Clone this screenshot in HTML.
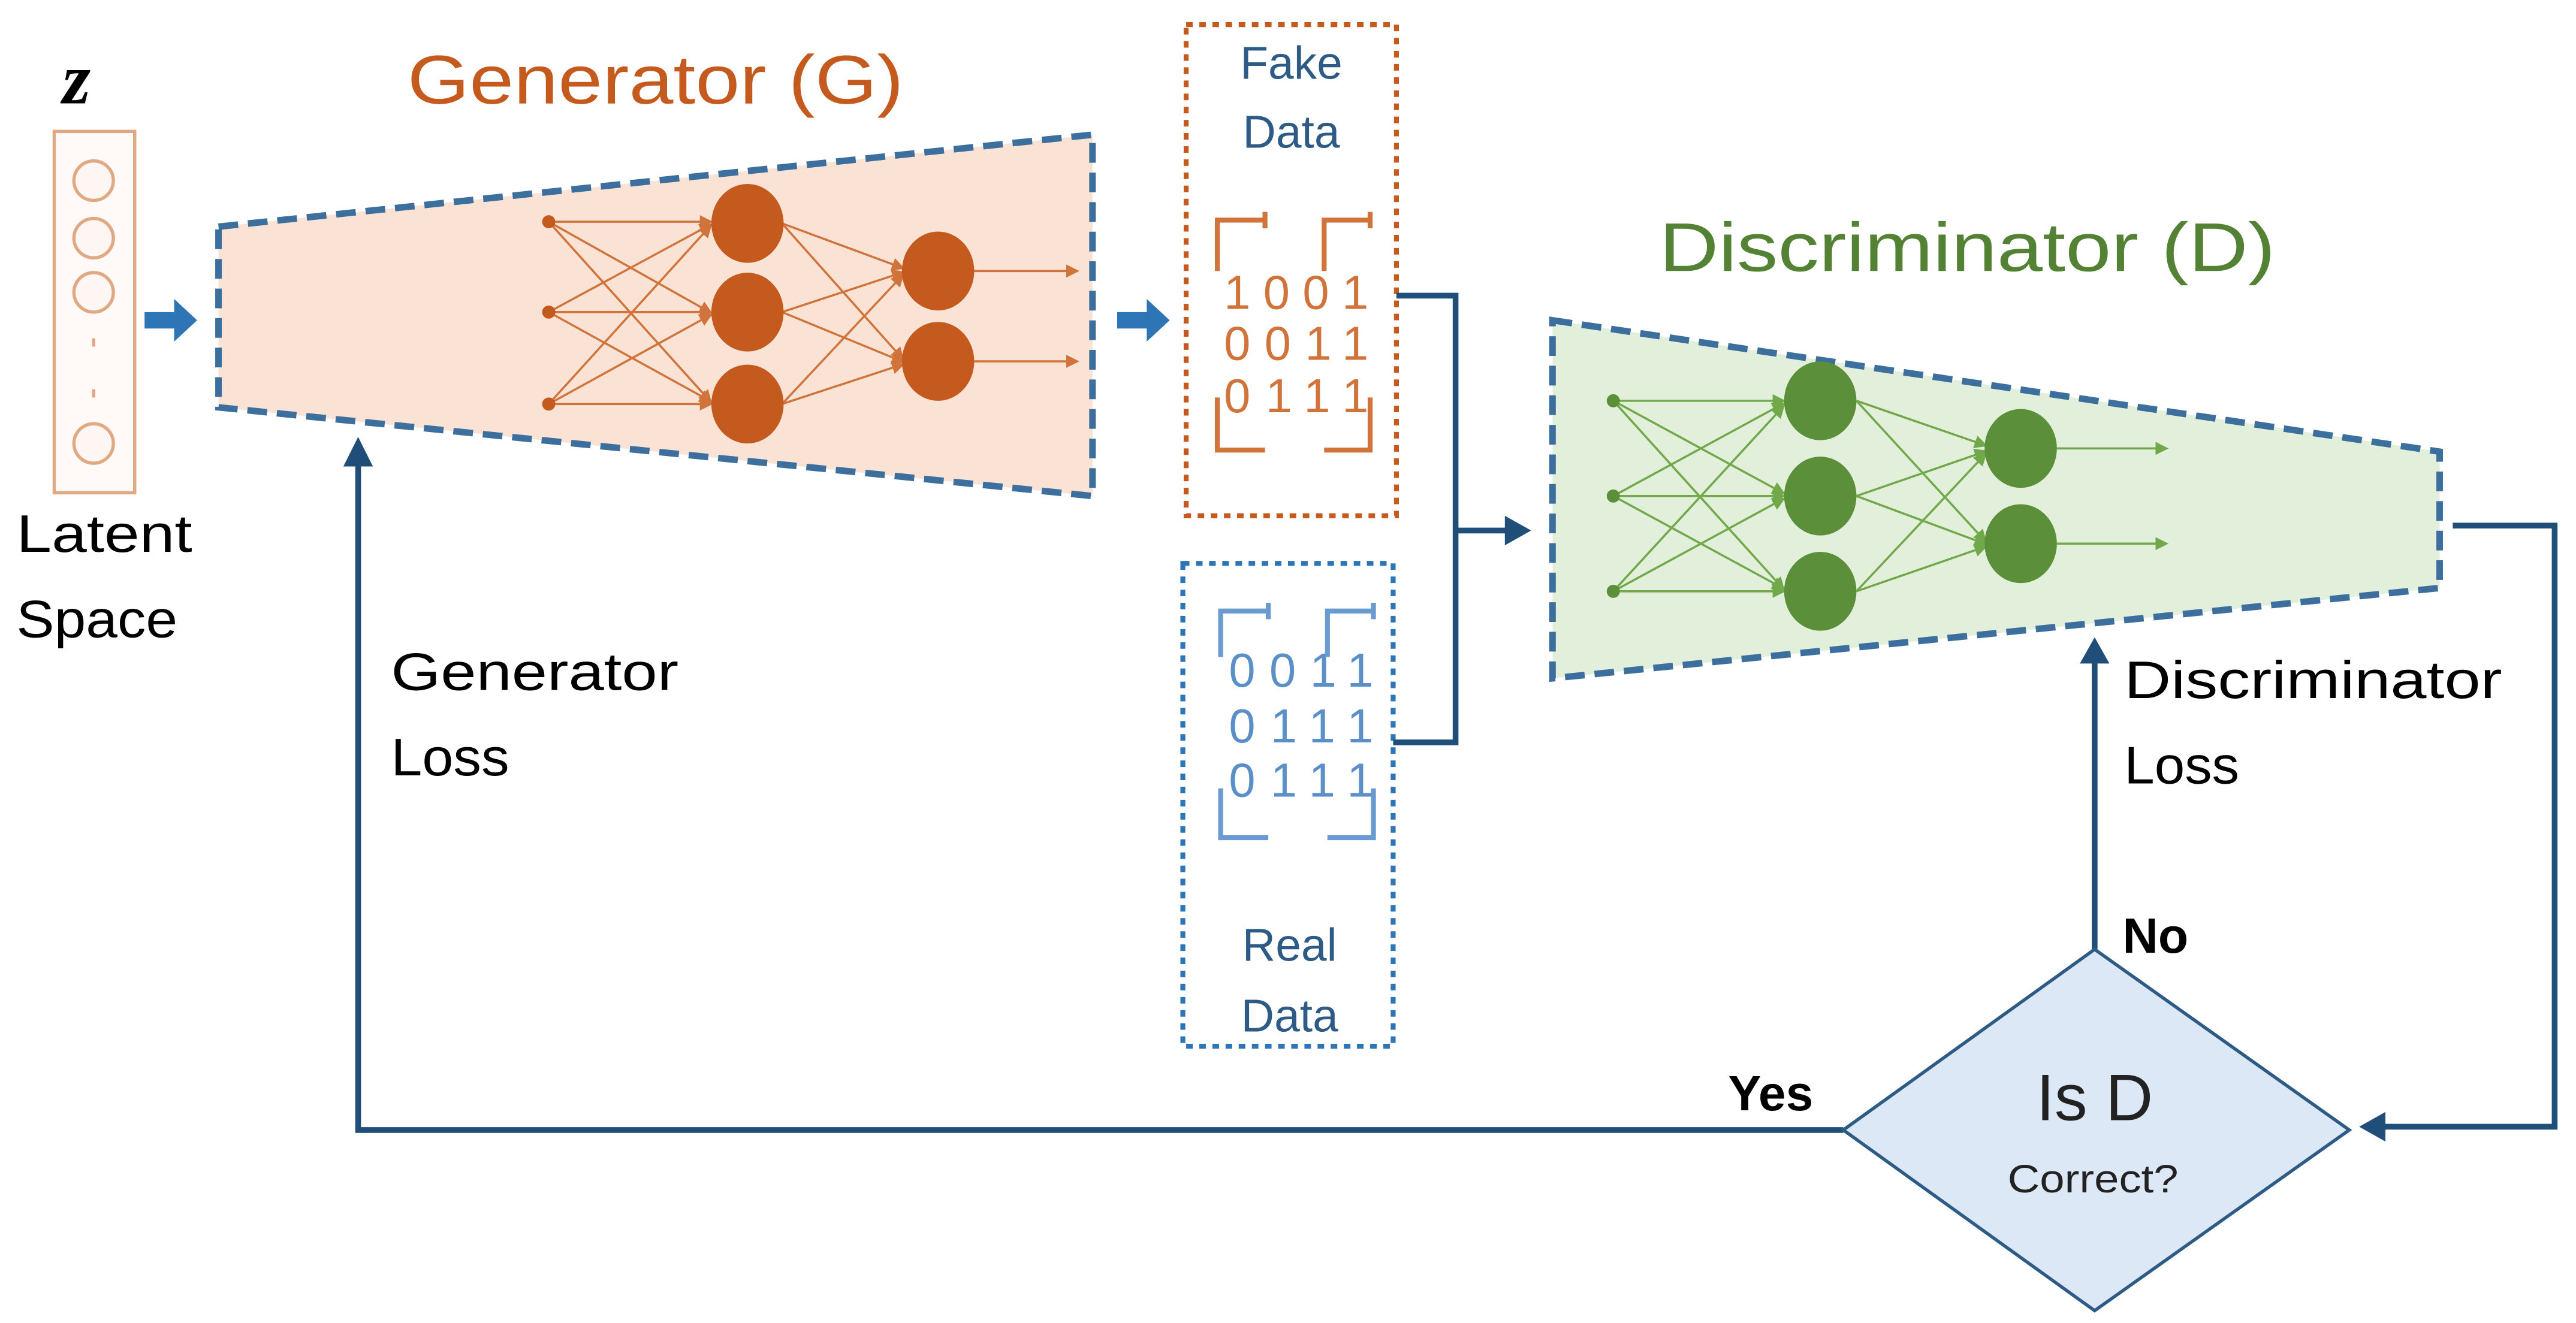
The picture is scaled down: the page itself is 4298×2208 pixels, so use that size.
<!DOCTYPE html>
<html><head><meta charset="utf-8"><style>
html,body{margin:0;padding:0;background:#fff;}
svg{display:block;}
text{font-family:"Liberation Sans",sans-serif;}
</style></head><body>
<svg width="4298" height="2208" viewBox="0 0 1568 805.5" xmlns="http://www.w3.org/2000/svg">
<defs>
<marker id="ah" markerWidth="8" markerHeight="8" refX="6" refY="4" orient="auto" markerUnits="userSpaceOnUse"><path d="M0,0 L8,4 L0,8 z" fill="#d0743c"/></marker>
<marker id="ahg" markerWidth="8" markerHeight="8" refX="6" refY="4" orient="auto" markerUnits="userSpaceOnUse"><path d="M0,0 L8,4 L0,8 z" fill="#70a84a"/></marker>
</defs>
<rect width="1568" height="805.5" fill="#fff"/>
<text x="38" y="63" font-family="Liberation Serif" font-style="italic" font-weight="bold" font-size="44" style="font-family:'Liberation Serif',serif">z</text>
<rect x="33" y="80" width="49" height="220" fill="#fffaf7" stroke="#e0a983" stroke-width="2"/>
<g fill="#fdf6f2" stroke="#e0a983" stroke-width="2">
<circle cx="57" cy="110" r="12"/><circle cx="57" cy="145" r="12"/><circle cx="57" cy="178" r="12"/><circle cx="57" cy="270" r="12"/></g>
<g fill="#e0a983"><rect x="56" y="206" width="2" height="5"/><rect x="56" y="237" width="2" height="5"/></g>
<text x="10" y="336" font-size="32" textLength="107" lengthAdjust="spacingAndGlyphs">Latent</text>
<text x="10" y="388" font-size="32" textLength="98" lengthAdjust="spacingAndGlyphs">Space</text>
<path d="M88,190 h18 v-8 l14,13 l-14,13 v-8 h-18 z" fill="#2e75b6"/>
<path d="M680,190 h18 v-8 l14,13 l-14,13 v-8 h-18 z" fill="#2e75b6"/>
<text x="248" y="63" font-size="42" fill="#c55a1e" textLength="302" lengthAdjust="spacingAndGlyphs">Generator (G)</text>
<polygon points="133,138 665,82 665,302 133,248" fill="#fae3d5" stroke="#3c6e9e" stroke-width="4" stroke-dasharray="12 6"/>
<g stroke="#d0743c" stroke-width="1.3" marker-end="url(#ah)">
<line x1="334" y1="135" x2="432" y2="135"/><line x1="334" y1="135" x2="432" y2="190"/><line x1="334" y1="135" x2="432" y2="244"/>
<line x1="334" y1="190" x2="432" y2="137"/><line x1="334" y1="190" x2="432" y2="190"/><line x1="334" y1="190" x2="432" y2="244"/>
<line x1="334" y1="246" x2="432" y2="138"/><line x1="334" y1="246" x2="432" y2="192"/><line x1="334" y1="246" x2="432" y2="246"/>
<line x1="476" y1="136" x2="549" y2="163"/><line x1="476" y1="136" x2="549" y2="218"/>
<line x1="476" y1="190" x2="549" y2="166"/><line x1="476" y1="190" x2="549" y2="220"/>
<line x1="476" y1="246" x2="549" y2="168"/><line x1="476" y1="246" x2="549" y2="222"/>
<line x1="593" y1="165" x2="655" y2="165"/><line x1="593" y1="220" x2="655" y2="220"/>
</g>
<g fill="#c55a1e"><circle cx="334" cy="135" r="4"/><circle cx="334" cy="190" r="4"/><circle cx="334" cy="246" r="4"/>
<ellipse cx="455" cy="136" rx="22" ry="24"/><ellipse cx="455" cy="190" rx="22" ry="24"/><ellipse cx="455" cy="246" rx="22" ry="24"/>
<ellipse cx="571" cy="165" rx="22" ry="24"/><ellipse cx="571" cy="220" rx="22" ry="24"/></g>
<rect x="722" y="15" width="128" height="299" fill="none" stroke="#c55a1e" stroke-width="3" stroke-dasharray="4 4"/>
<text x="786" y="48" font-size="28" fill="#2e5a86" text-anchor="middle">Fake</text>
<text x="786" y="90" font-size="28" fill="#2e5a86" text-anchor="middle">Data</text>
<g stroke="#d0743c" stroke-width="3" fill="none">
<path d="M741,165 V134 H770 M770,129 V139"/><path d="M806,165 V134 H834 M834,129 V139"/>
<path d="M741,242 V274 H770"/><path d="M806,274 H834 V242"/></g>
<g font-size="29" fill="#d0743c">
<text x="745" y="188" textLength="88" lengthAdjust="spacing">1001</text><text x="745" y="219" textLength="88" lengthAdjust="spacing">0011</text><text x="745" y="251" textLength="88" lengthAdjust="spacing">0111</text></g>
<rect x="720" y="343" width="128" height="294" fill="none" stroke="#2e75b6" stroke-width="3" stroke-dasharray="4 4"/>
<g stroke="#6a9bd0" stroke-width="3" fill="none">
<path d="M743,400 V372 H772 M772,367 V377"/><path d="M808,400 V372 H836 M836,367 V377"/>
<path d="M743,480 V510 H772"/><path d="M808,510 H836 V480"/></g>
<g font-size="29" fill="#5b8fc7">
<text x="748" y="418" textLength="88" lengthAdjust="spacing">0011</text><text x="748" y="452" textLength="88" lengthAdjust="spacing">0111</text><text x="748" y="485" textLength="88" lengthAdjust="spacing">0111</text></g>
<text x="785" y="585" font-size="28" fill="#2e5a86" text-anchor="middle">Real</text>
<text x="785" y="628" font-size="28" fill="#2e5a86" text-anchor="middle">Data</text>
<g stroke="#1f4e79" stroke-width="3.5" fill="none">
<path d="M850,180 H886 V452 H848"/><path d="M886,323 H918"/>
<path d="M1493,320 H1555 V686 H1450"/>
<path d="M1275,578 V402"/>
<path d="M1122,688 H218 V282"/></g>
<g fill="#1f4e79">
<path d="M916,314 L932,323 L916,332 z"/><path d="M1452,677 L1436,686 L1452,695 z"/>
<path d="M1266,404 L1275,388 L1284,404 z"/><path d="M209,284 L218,266 L227,284 z"/></g>
<text x="1010" y="165" font-size="42" fill="#548235" textLength="375" lengthAdjust="spacingAndGlyphs">Discriminator (D)</text>
<polygon points="945,195 1485,275 1485,358 945,413" fill="#e2efda" stroke="#3c6e9e" stroke-width="4" stroke-dasharray="12 6"/>
<g stroke="#70a84a" stroke-width="1.3" marker-end="url(#ahg)">
<line x1="982" y1="244" x2="1085" y2="244"/><line x1="982" y1="244" x2="1085" y2="300"/><line x1="982" y1="244" x2="1085" y2="358"/>
<line x1="982" y1="302" x2="1085" y2="246"/><line x1="982" y1="302" x2="1085" y2="302"/><line x1="982" y1="302" x2="1085" y2="358"/>
<line x1="982" y1="360" x2="1085" y2="248"/><line x1="982" y1="360" x2="1085" y2="304"/><line x1="982" y1="360" x2="1085" y2="360"/>
<line x1="1130" y1="244" x2="1208" y2="271"/><line x1="1130" y1="244" x2="1208" y2="329"/>
<line x1="1130" y1="302" x2="1208" y2="275"/><line x1="1130" y1="302" x2="1208" y2="331"/>
<line x1="1130" y1="360" x2="1208" y2="277"/><line x1="1130" y1="360" x2="1208" y2="333"/>
<line x1="1252" y1="273" x2="1318" y2="273"/><line x1="1252" y1="331" x2="1318" y2="331"/>
</g>
<g fill="#5b8f3a"><circle cx="982" cy="244" r="4"/><circle cx="982" cy="302" r="4"/><circle cx="982" cy="360" r="4"/>
<ellipse cx="1108" cy="244" rx="22" ry="24"/><ellipse cx="1108" cy="302" rx="22" ry="24"/><ellipse cx="1108" cy="360" rx="22" ry="24"/>
<ellipse cx="1230" cy="273" rx="22" ry="24"/><ellipse cx="1230" cy="331" rx="22" ry="24"/></g>
<polygon points="1275,578 1430,688 1275,798 1122,688" fill="#dce8f5" stroke="#2e5a86" stroke-width="2"/>
<text x="1275" y="682" font-size="40" text-anchor="middle" fill="#222">Is D</text>
<text x="1274" y="726" font-size="24" text-anchor="middle" fill="#222" textLength="104" lengthAdjust="spacingAndGlyphs">Correct?</text>
<text x="1292" y="580" font-size="30" font-weight="bold">No</text>
<text x="1052" y="676" font-size="30" font-weight="bold">Yes</text>
<text x="1293" y="425" font-size="32" textLength="230" lengthAdjust="spacingAndGlyphs">Discriminator</text>
<text x="1293" y="477" font-size="32" textLength="70" lengthAdjust="spacingAndGlyphs">Loss</text>
<text x="238" y="420" font-size="32" textLength="175" lengthAdjust="spacingAndGlyphs">Generator</text>
<text x="238" y="472" font-size="32" textLength="72" lengthAdjust="spacingAndGlyphs">Loss</text>
</svg>
</body></html>
